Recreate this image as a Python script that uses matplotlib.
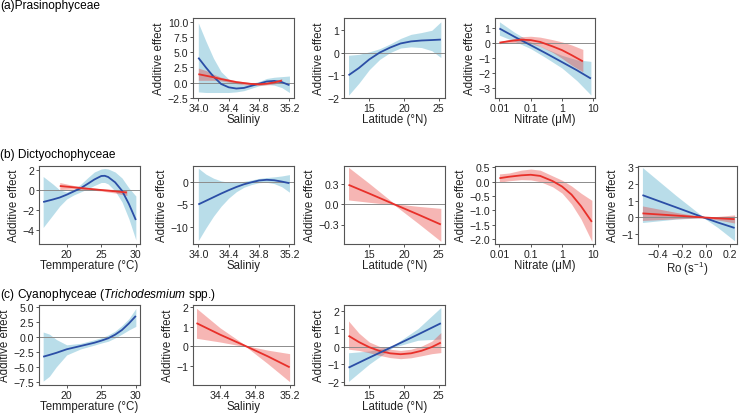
import numpy as np
import matplotlib
matplotlib.use("Agg")
import matplotlib.pyplot as plt

plt.rcParams["font.family"] = ["Liberation Sans", "DejaVu Sans"]
plt.rcParams["mathtext.fontset"] = "custom"
plt.rcParams["mathtext.rm"] = "Liberation Sans"
plt.rcParams["mathtext.it"] = "Liberation Sans:italic"

BLUE, RED = "#2b4ea6", "#e8302a"
BAND_B, BAND_R = "#add8e6", "#e8302a"

# ---- (a) Prasinophyceae ----
a1_x_b = [34.0, 34.1, 34.2, 34.3, 34.4, 34.5, 34.6, 34.7, 34.8, 34.9, 35.0, 35.1, 35.2]
a1_fit_b = [4.1, 2.5, 1.0, -0.2, -0.75, -0.95, -0.85, -0.5, -0.15, 0.2, 0.3, 0.1, -0.4]
a1_hi_b = [9.8, 6.8, 4.0, 1.8, 0.6, 0.0, -0.2, -0.1, 0.2, 0.7, 0.9, 1.0, 1.1]
a1_lo_b = [-1.5, -1.6, -1.6, -1.6, -1.6, -1.5, -1.3, -0.9, -0.5, -0.3, -0.4, -0.8, -1.6]
a1_x_r = [34.0, 34.1, 34.2, 34.3, 34.4, 34.5, 34.6, 34.7, 34.8, 34.9, 35.0, 35.1]
a1_fit_r = [1.4, 1.15, 0.9, 0.6, 0.35, 0.1, -0.05, -0.2, -0.25, -0.15, 0.05, 0.35]
a1_hi_r = [2.4, 2.0, 1.4, 0.9, 0.6, 0.35, 0.15, 0.0, -0.05, 0.05, 0.3, 0.65]
a1_lo_r = [0.4, 0.4, 0.4, 0.3, 0.1, -0.15, -0.3, -0.4, -0.45, -0.35, -0.2, 0.05]

a2_x_b = [12, 13.5, 15, 16.5, 18, 19.5, 21, 22.5, 24, 25.3]
a2_fit_b = [-1.0, -0.68, -0.3, 0.0, 0.22, 0.4, 0.49, 0.53, 0.55, 0.57]
a2_hi_b = [-0.12, -0.08, 0.03, 0.17, 0.38, 0.62, 0.8, 0.88, 0.98, 1.35]
a2_lo_b = [-1.88, -1.35, -0.75, -0.3, 0.0, 0.2, 0.25, 0.22, 0.08, -0.22]

a3_x_b = [0.01, 0.03, 0.1, 0.3, 1, 3, 8.3]
a3_fit_b = [1.0, 0.45, -0.12, -0.65, -1.25, -1.8, -2.35]
a3_hi_b = [1.45, 0.75, 0.1, -0.35, -0.8, -1.1, -1.2]
a3_lo_b = [0.55, 0.15, -0.35, -0.95, -1.65, -2.5, -3.45]
a3_x_r = [0.01, 0.02, 0.05, 0.1, 0.2, 0.5, 1, 2, 4.6]
a3_fit_r = [0.05, 0.15, 0.25, 0.22, 0.1, -0.2, -0.45, -0.78, -1.2]
a3_hi_r = [0.12, 0.25, 0.45, 0.48, 0.42, 0.25, 0.1, -0.1, -0.4]
a3_lo_r = [-0.02, 0.05, 0.08, 0.0, -0.2, -0.6, -1.0, -1.45, -1.9]

# ---- (b) Dictyochophyceae ----
b1_x_b = [16.6, 18, 19, 20, 21, 22, 23, 24, 25, 25.5, 26, 27, 28, 29, 30]
b1_fit_b = [-1.2, -0.95, -0.75, -0.47, -0.15, 0.17, 0.6, 1.05, 1.4, 1.42, 1.3, 0.77, -0.07, -1.4, -3.0]
b1_hi_b = [1.35, 0.6, 0.0, -0.2, 0.05, 0.55, 1.2, 1.8, 2.1, 2.15, 2.1, 1.8, 1.2, 0.2, -0.6]
b1_lo_b = [-3.75, -2.5, -1.6, -0.9, -0.5, -0.2, 0.1, 0.45, 0.75, 0.75, 0.6, -0.1, -1.2, -2.9, -5.0]
b1_x_r = [19, 21, 23, 25, 27, 28.7]
b1_fit_r = [0.4, 0.27, 0.13, 0.0, -0.13, -0.25]
b1_hi_r = [0.75, 0.45, 0.25, 0.12, 0.05, 0.0]
b1_lo_r = [0.05, 0.1, 0.03, -0.1, -0.3, -0.55]

b2_x_b = [34.0, 34.1, 34.2, 34.3, 34.4, 34.5, 34.6, 34.7, 34.8, 34.9, 35.0, 35.1, 35.2]
b2_fit_b = [-5.0, -4.2, -3.4, -2.6, -1.85, -1.15, -0.55, -0.1, 0.3, 0.45, 0.35, 0.05, -0.3]
b2_hi_b = [3.0, 1.7, 0.8, 0.2, -0.1, -0.1, 0.1, 0.4, 0.75, 0.95, 1.1, 1.3, 1.6]
b2_lo_b = [-13.0, -10.2, -7.6, -5.4, -3.6, -2.2, -1.2, -0.6, -0.2, -0.1, -0.4, -1.1, -2.3]

b3_x_r = [12, 15, 18.6, 22, 25.3]
b3_fit_r = [0.29, 0.16, 0.0, -0.15, -0.3]
b3_hi_r = [0.55, 0.31, 0.01, -0.03, -0.06]
b3_lo_r = [0.065, 0.03, -0.01, -0.28, -0.55]

b4_x_r = [0.01, 0.02, 0.05, 0.1, 0.2, 0.5, 1, 2, 4, 8.9]
b4_fit_r = [0.12, 0.17, 0.22, 0.24, 0.2, 0.02, -0.17, -0.45, -0.85, -1.4]
b4_hi_r = [0.27, 0.3, 0.4, 0.44, 0.4, 0.2, 0.05, -0.15, -0.4, -0.65]
b4_lo_r = [-0.02, 0.03, 0.07, 0.06, 0.0, -0.18, -0.4, -0.78, -1.3, -2.08]

b5_x = [-0.53, -0.25, -0.02, 0.1, 0.24]
b5_fit_b = [1.32, 0.6, 0.0, -0.3, -0.62]
b5_hi_b = [2.95, 1.3, 0.02, -0.05, 0.08]
b5_lo_b = [-0.3, -0.1, -0.02, -0.6, -1.38]
b5_fit_r = [0.24, 0.11, 0.0, -0.05, -0.1]
b5_hi_r = [0.68, 0.3, 0.02, 0.06, 0.15]
b5_lo_r = [-0.18, -0.08, -0.02, -0.15, -0.33]

# ---- (c) Cyanophyceae ----
c1_x_b = [16.6, 17.5, 18.5, 20, 22, 24, 25, 26, 27, 28, 29, 30]
c1_fit_b = [-3.3, -3.0, -2.65, -2.05, -1.5, -0.95, -0.6, -0.2, 0.4, 1.2, 2.3, 3.55]
c1_hi_b = [0.85, 0.5, -0.4, -1.3, -1.05, -0.45, -0.1, 0.35, 1.0, 1.95, 3.1, 4.8]
c1_lo_b = [-7.4, -6.6, -5.0, -3.0, -2.0, -1.35, -1.0, -0.7, -0.15, 0.5, 1.2, 1.8]

c2_x_r = [34.13, 34.4, 34.7, 34.95, 35.2]
c2_fit_r = [1.19, 0.6, 0.0, -0.52, -1.08]
c2_hi_r = [1.95, 0.95, 0.03, -0.2, -0.38]
c2_lo_r = [0.41, 0.22, -0.03, -0.9, -1.82]

c3_x_b = [12, 15, 18.4, 22, 25.3]
c3_fit_b = [-1.18, -0.62, 0.0, 0.67, 1.3]
c3_hi_b = [-0.35, -0.25, 0.05, 1.0, 2.18]
c3_lo_b = [-1.95, -0.98, -0.05, 0.35, 0.42]
c3_x_r = [12, 13.5, 15, 16.5, 18, 19.5, 21, 22.5, 24, 25.3]
c3_fit_r = [0.6, 0.25, -0.04, -0.25, -0.38, -0.43, -0.38, -0.24, -0.03, 0.22]
c3_hi_r = [1.43, 0.75, 0.25, 0.0, -0.15, -0.22, -0.15, 0.02, 0.3, 0.78]
c3_lo_r = [-0.15, -0.22, -0.35, -0.5, -0.62, -0.68, -0.63, -0.52, -0.4, -0.34]

W, H = 739, 414
fig = plt.figure(figsize=(W / 100, H / 100), dpi=100)

cols = [(39, 140), (193, 294), (344, 445), (495, 595), (638, 737)]
rows = [(19, 99), (167, 245), (306, 386)]


def mk(r, c):
    x1, x2 = cols[c]
    y1, y2 = rows[r]
    ax = fig.add_axes([x1 / W, 1 - y2 / H, (x2 - x1) / W, (y2 - y1) / H])
    for sp_ in ax.spines.values():
        sp_.set_color("#555555")
        sp_.set_linewidth(0.8)
    ax.tick_params(length=2.5, width=0.7, color="#555555", labelsize=7.6, pad=1.0,
                   labelcolor="#222222")
    ax.axhline(0, color="#8c8c8c", lw=0.7, zorder=2)
    ax.set_ylabel("Additive effect", fontsize=8.3, labelpad=1.5, color="#222222")
    return ax


def band(ax, x, lo, hi, col, alpha):
    ax.fill_between(x, lo, hi, color=col, alpha=alpha, lw=0, zorder=1)


def line(ax, x, y, col):
    ax.plot(x, y, color=col, lw=1.3, zorder=3, solid_capstyle="butt")


def fmt(ax, xlab, xlim, ylim, yt, ylabs=None, xt=None, xlabs=None, logx=False):
    if logx:
        ax.set_xscale("log")
        ax.minorticks_off()
    ax.set_xlim(*xlim)
    ax.set_ylim(*ylim)
    if xt is not None:
        ax.set_xticks(xt)
        if xlabs is not None:
            ax.set_xticklabels(xlabs)
    ax.set_yticks(yt)
    if ylabs is not None:
        ax.set_yticklabels(ylabs)
    ax.set_xlabel(xlab, fontsize=8.3, labelpad=0.3, color="#222222")


def mlab(vals, d):
    return [("\u2212" if v < 0 else "") + f"{abs(v):.{d}f}" for v in vals]


sal_t = [34.0, 34.4, 34.8, 35.2]
lat_t = [15, 20, 25]
nit_t = [0.01, 0.1, 1, 10]
nit_l = ["0.01", "0.1", "1", "10"]
tmp_t = [20, 25, 30]

# (a)
ax = mk(0, 1)
band(ax, a1_x_b, a1_lo_b, a1_hi_b, BAND_B, 0.85)
band(ax, a1_x_r, a1_lo_r, a1_hi_r, BAND_R, 0.35)
line(ax, a1_x_b, a1_fit_b, BLUE)
line(ax, a1_x_r, a1_fit_r, RED)
yt = [-2.5, 0, 2.5, 5, 7.5, 10]
fmt(ax, "Saliniy", (33.93, 35.26), (-2.5, 10.6), yt, mlab(yt, 1), sal_t, mlab(sal_t, 1))

ax = mk(0, 2)
band(ax, a2_x_b, a2_lo_b, a2_hi_b, BAND_B, 0.85)
line(ax, a2_x_b, a2_fit_b, BLUE)
yt = [-2, -1, 0, 1]
fmt(ax, "Latitude (°N)", (11.35, 25.9), (-2, 1.52), yt, mlab(yt, 0), lat_t)

ax = mk(0, 3)
band(ax, a3_x_b, a3_lo_b, a3_hi_b, BAND_B, 0.85)
band(ax, a3_x_r, a3_lo_r, a3_hi_r, BAND_R, 0.35)
line(ax, a3_x_b, a3_fit_b, BLUE)
line(ax, a3_x_r, a3_fit_r, RED)
yt = [-3, -2, -1, 0, 1]
fmt(ax, "Nitrate (μM)", (10 ** -2.14, 10 ** 1.05), (-3.65, 1.7), yt, mlab(yt, 0),
    nit_t, nit_l, logx=True)

# (b)
ax = mk(1, 0)
band(ax, b1_x_b, b1_lo_b, b1_hi_b, BAND_B, 0.85)
band(ax, b1_x_r, b1_lo_r, b1_hi_r, BAND_R, 0.35)
line(ax, b1_x_b, b1_fit_b, BLUE)
line(ax, b1_x_r, b1_fit_r, RED)
yt = [-4, -2, 0, 2]
fmt(ax, "Temmperature (°C)", (16.0, 30.6), (-5.4, 2.4), yt, mlab(yt, 0), tmp_t)

ax = mk(1, 1)
band(ax, b2_x_b, b2_lo_b, b2_hi_b, BAND_B, 0.85)
line(ax, b2_x_b, b2_fit_b, BLUE)
yt = [-10, -5, 0]
fmt(ax, "Saliniy", (33.93, 35.26), (-13.75, 3.5), yt, mlab(yt, 0), sal_t, mlab(sal_t, 1))

ax = mk(1, 2)
band(ax, b3_x_r, b3_lo_r, b3_hi_r, BAND_R, 0.35)
line(ax, b3_x_r, b3_fit_r, RED)
yt = [-0.3, 0.0, 0.3]
fmt(ax, "Latitude (°N)", (11.35, 25.9), (-0.59, 0.57), yt, mlab(yt, 1), lat_t)

ax = mk(1, 3)
band(ax, b4_x_r, b4_lo_r, b4_hi_r, BAND_R, 0.35)
line(ax, b4_x_r, b4_fit_r, RED)
yt = [-2.0, -1.5, -1.0, -0.5, 0.0, 0.5]
fmt(ax, "Nitrate (μM)", (10 ** -2.14, 10 ** 1.05), (-2.17, 0.545), yt, mlab(yt, 1),
    nit_t, nit_l, logx=True)

ax = mk(1, 4)
band(ax, b5_x, b5_lo_b, b5_hi_b, BAND_B, 0.85)
band(ax, b5_x, b5_lo_r, b5_hi_r, BAND_R, 0.35)
line(ax, b5_x, b5_fit_b, BLUE)
line(ax, b5_x, b5_fit_r, RED)
yt = [-1, 0, 1, 2, 3]
xt = [-0.4, -0.2, 0.0, 0.2]
fmt(ax, "Ro (s$^{-1}$)", (-0.567, 0.26), (-1.57, 3.04), yt, mlab(yt, 0), xt, mlab(xt, 1))

# (c)
ax = mk(2, 0)
band(ax, c1_x_b, c1_lo_b, c1_hi_b, BAND_B, 0.85)
line(ax, c1_x_b, c1_fit_b, BLUE)
yt = [-7.5, -5.0, -2.5, 0.0, 2.5, 5.0]
fmt(ax, "Temmperature (°C)", (16.0, 30.6), (-8.05, 5.39), yt, mlab(yt, 1), tmp_t)

ax = mk(2, 1)
band(ax, c2_x_r, c2_lo_r, c2_hi_r, BAND_R, 0.35)
line(ax, c2_x_r, c2_fit_r, RED)
yt = [-1, 0, 1, 2]
xt = [34.4, 34.8, 35.2]
fmt(ax, "Saliniy", (34.09, 35.25), (-1.99, 2.12), yt, mlab(yt, 0), xt, mlab(xt, 1))

ax = mk(2, 2)
band(ax, c3_x_b, c3_lo_b, c3_hi_b, BAND_B, 0.85)
band(ax, c3_x_r, c3_lo_r, c3_hi_r, BAND_R, 0.35)
line(ax, c3_x_r, c3_fit_r, RED)
line(ax, c3_x_b, c3_fit_b, BLUE)
yt = [-2, -1, 0, 1, 2]
fmt(ax, "Latitude (°N)", (11.35, 25.9), (-2.15, 2.32), yt, mlab(yt, 0), lat_t)

# row titles
fig.text(0.0, 1 - 6 / H, "(a)Prasinophyceae", fontsize=8.6, va="center", ha="left")
fig.text(0.0, 1 - 155 / H, "(b) Dictyochophyceae", fontsize=8.6, va="center", ha="left")
fig.text(0.0, 1 - 295 / H, "(c) Cyanophyceae ($\\mathit{Trichodesmium}$ spp.)",
         fontsize=8.6, va="center", ha="left")

fig.savefig("out.png", dpi=100)
